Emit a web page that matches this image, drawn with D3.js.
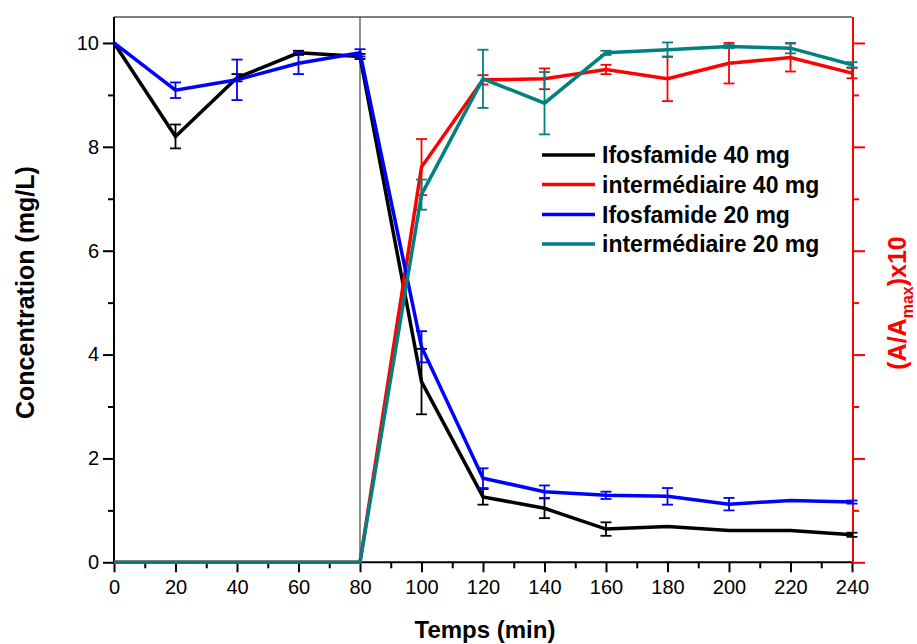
<!DOCTYPE html>
<html>
<head>
<meta charset="utf-8">
<script src="https://cdn.jsdelivr.net/npm/d3@7/dist/d3.min.js"></script>
<style>
  html, body { margin: 0; padding: 0; background: #fff; }
  svg { display: block; font-family: "Liberation Sans", Arial, sans-serif; }
</style>
</head>
<body>
<svg id="chart" width="917" height="644"></svg>
<script>
// ---- data ----
const times = [0, 20, 40, 60, 80, 100, 120, 140, 160, 180, 200, 220, 240];

const ifos40 = [10, 8.2, 9.33, 9.81, 9.74, 3.48, 1.26, 1.04, 0.64, 0.69, 0.61, 0.61, 0.53];
const ifos40Err = [0, 0.23, 0.07, 0.04, 0.05, 0.63, 0.15, 0.19, 0.13, 0, 0, 0, 0.04];

const inter40 = [0, 0, 0, 0, 0, 7.61, 9.29, 9.31, 9.49, 9.31, 9.61, 9.72, 9.42];
const inter40Err = [0, 0, 0, 0, 0, 0.54, 0.09, 0.2, 0.09, 0.43, 0.39, 0.27, 0.1];

const ifos20 = [10, 9.09, 9.29, 9.61, 9.81, 4.15, 1.62, 1.36, 1.29, 1.27, 1.12, 1.19, 1.16];
const ifos20Err = [0, 0.15, 0.39, 0.21, 0.07, 0.3, 0.19, 0.12, 0.07, 0.16, 0.12, 0, 0.03];

const inter20 = [0, 0, 0, 0, 0, 7.08, 9.31, 8.84, 9.81, 9.87, 9.93, 9.9, 9.58];
const inter20Err = [0, 0, 0, 0, 0, 0.29, 0.56, 0.6, 0.04, 0.14, 0.03, 0.1, 0.05];

const seriesNames = ["Ifosfamide 40 mg", "intermédiaire 40 mg", "Ifosfamide 20 mg", "intermédiaire 20 mg"];
const seriesColors = ["#000000", "#ff0000", "#0000ff", "#008080"];

const xTicks = [0, 20, 40, 60, 80, 100, 120, 140, 160, 180, 200, 220, 240];
const yTicks = [0, 2, 4, 6, 8, 10];
const xTitle = "Temps (min)";
const yTitle = "Concentration (mg/L)";

// ---- layout ----
const svg = d3.select("#chart");
const L = 114, R = 852, T = 17, B = 562.3;
const x = d3.scaleLinear().domain([0, 240]).range([L, R]);
const y = d3.scaleLinear().domain([0, 10.5]).range([B, T]);
const y2 = d3.scaleLinear().domain([0, 10.5]).range([B, T]);

// top border
svg.append("line").attr("x1", L).attr("x2", R).attr("y1", T).attr("y2", T)
  .attr("stroke", "#000").attr("stroke-width", 1);
// vertical separator at 80 min
svg.append("line").attr("x1", x(80)).attr("x2", x(80)).attr("y1", T).attr("y2", B)
  .attr("stroke", "#222").attr("stroke-width", 1);

// bottom axis
const xAxis = d3.axisBottom(x).tickValues(xTicks).tickSize(10).tickPadding(8).tickFormat(d3.format("d"));
const gx = svg.append("g").attr("transform", `translate(0,${B})`).call(xAxis);
gx.select(".domain").attr("stroke-width", 2).attr("d", `M${L - 1},0H${R + 1}`);
gx.selectAll(".tick line").attr("stroke-width", 2);
gx.selectAll(".tick text").attr("font-size", 20).attr("fill", "#000");
const xMinor = d3.axisBottom(x).tickValues(d3.range(10, 240, 20)).tickSize(6).tickFormat("");
const gxm = svg.append("g").attr("transform", `translate(0,${B})`).call(xMinor);
gxm.select(".domain").remove();
gxm.selectAll(".tick line").attr("stroke-width", 2);

// left axis
const yAxis = d3.axisLeft(y).tickValues(yTicks).tickSize(11).tickPadding(4).tickFormat(d3.format("d"));
const gy = svg.append("g").attr("transform", `translate(${L},0)`).call(yAxis);
gy.select(".domain").attr("stroke-width", 2).attr("d", `M0,${B + 1}V${T}`);
gy.selectAll(".tick line").attr("stroke-width", 2);
gy.selectAll(".tick text").attr("font-size", 20).attr("fill", "#000");
const yMinor = d3.axisLeft(y).tickValues([1, 3, 5, 7, 9]).tickSize(6).tickFormat("");
const gym = svg.append("g").attr("transform", `translate(${L},0)`).call(yMinor);
gym.select(".domain").remove();
gym.selectAll(".tick line").attr("stroke-width", 2);

// right axis (red)
const yAxisR = d3.axisRight(y2).tickValues(yTicks).tickSize(12).tickFormat("");
const gr = svg.append("g").attr("transform", `translate(${R + 1},0)`).call(yAxisR);
gr.select(".domain").attr("stroke", "#ff0000").attr("stroke-width", 2).attr("d", `M0,${B + 1}V${T}`);
gr.selectAll(".tick line").attr("stroke", "#ff0000").attr("stroke-width", 2);
const yMinorR = d3.axisRight(y2).tickValues([1, 3, 5, 7, 9]).tickSize(6).tickFormat("");
const grm = svg.append("g").attr("transform", `translate(${R + 1},0)`).call(yMinorR);
grm.select(".domain").remove();
grm.selectAll(".tick line").attr("stroke", "#ff0000").attr("stroke-width", 2);

// axis titles
svg.append("text").attr("x", 485).attr("y", 638).attr("text-anchor", "middle")
  .attr("font-size", 24).attr("font-weight", "bold").text(xTitle);
svg.append("text").attr("transform", `translate(34,${(T + B) / 2 + 3}) rotate(-90)`)
  .attr("text-anchor", "middle").attr("font-size", 25).attr("font-weight", "bold").text(yTitle);
const rt = svg.append("text").attr("transform", `translate(906,303) rotate(-90)`)
  .attr("text-anchor", "middle").attr("font-size", 25).attr("font-weight", "bold").attr("fill", "#ff0000");
rt.append("tspan").text("(A/A");
rt.append("tspan").attr("font-size", 16).attr("dy", 7).text("max");
rt.append("tspan").attr("dy", -7).text(")x10");

// series
const series = [
  { v: ifos40, e: ifos40Err },
  { v: inter40, e: inter40Err },
  { v: ifos20, e: ifos20Err },
  { v: inter20, e: inter20Err }
];
const line = d3.line().x(d => x(d.t)).y(d => y(d.v));

series.forEach((s, i) => {
  const pts = times.map((t, k) => ({ t, v: s.v[k], e: s.e[k] }));
  const color = seriesColors[i];
  const g = svg.append("g");
  g.append("path").datum(pts).attr("d", line).attr("fill", "none")
    .attr("stroke", color).attr("stroke-width", 3.5).attr("stroke-linejoin", "miter");
  const eb = g.selectAll(".eb").data(pts.filter(p => p.e > 0)).enter().append("g");
  eb.append("line").attr("x1", d => x(d.t)).attr("x2", d => x(d.t))
    .attr("y1", d => y(d.v - d.e)).attr("y2", d => y(d.v + d.e))
    .attr("stroke", color).attr("stroke-width", 1.8);
  [-1, 1].forEach(sg => {
    eb.append("line").attr("x1", d => x(d.t) - 5.5).attr("x2", d => x(d.t) + 5.5)
      .attr("y1", d => y(d.v + sg * d.e)).attr("y2", d => y(d.v + sg * d.e))
      .attr("stroke", color).attr("stroke-width", 1.8);
  });
});

// legend
const legY = [155, 184.5, 214.5, 244];
seriesNames.forEach((name, i) => {
  svg.append("line").attr("x1", 542).attr("x2", 595).attr("y1", legY[i]).attr("y2", legY[i])
    .attr("stroke", seriesColors[i]).attr("stroke-width", 3.5);
  svg.append("text").attr("x", 602).attr("y", legY[i]).attr("dy", "0.35em")
    .attr("font-size", 23).attr("font-weight", "bold").attr("fill", "#000").text(name);
});
</script>
</body>
</html>
